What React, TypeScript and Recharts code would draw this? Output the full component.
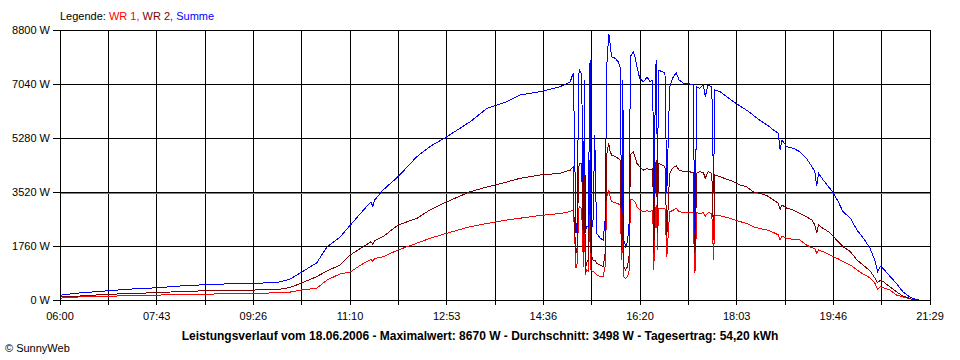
import { LineChart, Line, XAxis, YAxis, CartesianGrid, ReferenceLine } from 'recharts';

// sampled readings, 18.06.2006
const times = [
  '06:00', '06:04', '06:21', '06:51', '07:15', '07:44', '08:08', '08:35', '09:12', '09:39',
  '09:52', '10:06', '10:18', '10:34', '10:45', '10:59', '11:10', '11:24', '11:32', '11:34',
  '11:36', '11:45', '12:01', '12:21', '12:35', '12:53', '13:18', '13:36', '13:57', '14:11',
  '14:33', '14:54', '15:05', '15:06', '15:08', '15:09', '15:11', '15:12', '15:14', '15:15',
  '15:17', '15:19', '15:20', '15:21', '15:22', '15:24', '15:26', '15:27', '15:29', '15:31',
  '15:33', '15:37', '15:40', '15:42', '15:44', '15:46', '15:47', '15:49', '15:53', '15:56',
  '15:58', '16:00', '16:01', '16:02', '16:04', '16:06', '16:08', '16:09', '16:12', '16:14',
  '16:16', '16:19', '16:23', '16:27', '16:30', '16:33', '16:34', '16:36', '16:37', '16:38',
  '16:39', '16:43', '16:46', '16:48', '16:51', '16:54', '16:58', '17:01', '17:06', '17:11',
  '17:16', '17:18', '17:20', '17:23', '17:27', '17:29', '17:32', '17:36', '17:38', '17:39',
  '17:45', '17:52', '17:59', '18:06', '18:13', '18:20', '18:27', '18:35', '18:42', '18:47',
  '18:49', '18:51', '18:56', '19:03', '19:10', '19:17', '19:23', '19:26', '19:28', '19:30',
  '19:35', '19:42', '19:46', '19:51', '19:56', '20:04', '20:11', '20:18', '20:25', '20:30',
  '20:33', '20:36', '20:39', '20:46', '20:53', '21:00', '21:08', '21:11', '21:15', '21:17',
];

// WR 1 (red)
const wr1 = [
  50, 75, 100, 120, 145, 160, 175, 190, 210, 225,
  235, 260, 330, 380, 650, 850, 915, 1195, 1320, 1260,
  1350, 1410, 1630, 1850, 2010, 2175, 2390, 2495, 2605, 2665,
  2755, 2820, 2880, 2900, 2930, 2500, 1040, 1100, 2990, 3040,
  2990, 1085, 2880, 815, 980, 950, 3095, 980, 925, 900,
  815, 760, 760, 1085, 3365, 3585, 3420, 3205, 3170, 3140,
  3095, 1305, 3040, 760, 705, 760, 980, 3260, 3260, 3205,
  3040, 2935, 2880, 2910, 2880, 2935, 980, 2990, 3095, 1630,
  2990, 2990, 2990, 1400, 2880, 2910, 2990, 2880, 2845, 2845,
  2845, 870, 2845, 2825, 2845, 2735, 2845, 2825, 1305, 2770,
  2740, 2695, 2630, 2555, 2500, 2390, 2335, 2280, 2200, 2120,
  1955, 2090, 2010, 1975, 1955, 1795, 1700, 1685, 1520, 1630,
  1575, 1465, 1410, 1340, 1250, 1140, 980, 840, 720, 560,
  350, 435, 400, 325, 165, 100, 40, 0, 0, 0,
];

// WR 2 (dark red)
const wr2 = [
  95, 105, 130, 185, 210, 240, 275, 300, 320, 330,
  340, 410, 555, 760, 945, 1140, 1470, 1740, 1900, 1810,
  1940, 2065, 2445, 2660, 2935, 3200, 3530, 3685, 3845, 3965,
  4075, 4130, 4235, 4290, 4345, 2500, 1530, 1600, 4345, 4455,
  4455, 1530, 4235, 870, 1195, 1300, 4630, 1520, 1305, 1300,
  1195, 1140, 1085, 1520, 4780, 5105, 4890, 4725, 4670, 4615,
  4565, 1630, 4345, 1085, 980, 1085, 1520, 4725, 4835, 4670,
  4455, 4345, 4235, 4290, 4235, 4290, 1520, 4455, 4565, 2175,
  4455, 4400, 4345, 2100, 4130, 4290, 4380, 4235, 4185, 4185,
  4155, 1520, 4130, 4185, 4155, 3965, 4185, 4130, 1955, 4075,
  4020, 3930, 3860, 3750, 3695, 3530, 3475, 3400, 3260, 3150,
  2950, 3100, 2990, 2935, 2825, 2715, 2605, 2445, 2175, 2445,
  2330, 2200, 2065, 1900, 1740, 1575, 1305, 1130, 950, 720,
  565, 650, 600, 435, 270, 130, 45, 10, 0, 0,
];

// Summe (blue)
const summe = [
  140, 175, 230, 300, 355, 400, 455, 500, 540, 555,
  570, 685, 910, 1205, 1725, 2050, 2440, 2930, 3200, 3050,
  3260, 3585, 4020, 4670, 5000, 5320, 5810, 6250, 6460, 6680,
  6790, 6950, 7115, 7225, 7390, 5975, 2180, 2300, 7390, 7495,
  7350, 2605, 7170, 2180, 2390, 2400, 7820, 2600, 2390, 5380,
  2175, 2010, 1955, 2600, 7715, 8670, 8475, 7930, 7875, 7765,
  7605, 2180, 7170, 1955, 1740, 1900, 2600, 7930, 8090, 7930,
  7605, 7225, 7115, 7260, 7115, 7170, 2605, 7605, 7820, 3040,
  7495, 7440, 7390, 3500, 6950, 7225, 7410, 7170, 7060, 7060,
  7005, 2175, 6950, 6900, 7005, 6625, 7005, 6950, 3475, 6845,
  6790, 6625, 6465, 6325, 6190, 6030, 5865, 5705, 5540, 5430,
  4890, 5215, 4995, 4945, 4835, 4615, 4345, 4180, 3715, 4130,
  3910, 3640, 3475, 3205, 2880, 2665, 2280, 2010, 1685, 1305,
  925, 1085, 1030, 780, 545, 270, 90, 40, 20, 0,
];

const yTicks = [0, 1760, 3520, 5280, 7040, 8800];
const xLabels = ['06:00', '07:43', '09:26', '11:10', '12:53', '14:36', '16:20', '18:03', '19:46', '21:29'];
const average = 3498;

const toMin = (s: string) => {
  const [h, m] = s.split(':').map(Number);
  return h * 60 + m;
};

const start = toMin(xLabels[0]);
const end = toMin(xLabels[xLabels.length - 1]);
const step = (end - start) / 18;
const xTicks = Array.from({ length: 19 }, (_, i) => start + i * step);

const data = times.map((t, i) => ({ t: toMin(t), wr1: wr1[i], wr2: wr2[i], summe: summe[i] }));

const font = '"Liberation Sans", Arial, sans-serif';

// average line: snap to the pixel row under the grid line so both stay visible
const AverageLine = (p: any) => (
  <line
    x1={p.x1}
    x2={p.x2}
    y1={Math.ceil(p.y1) + 0.5}
    y2={Math.ceil(p.y2) + 0.5}
    stroke="#808080"
    strokeWidth={1}
  />
);

export default function App() {
  return (
    <div style={{ position: 'relative', width: 960, height: 360, background: '#fff', fontFamily: font }}>
      <style>{`body{margin:0} svg line{shape-rendering:crispEdges} .recharts-line-curve{shape-rendering:crispEdges}`}</style>
      <LineChart width={960} height={360} data={data} margin={{ top: 30, right: 30, bottom: 40, left: 0 }}>
        <CartesianGrid stroke="#000" strokeWidth={1} />
        <XAxis
          dataKey="t"
          type="number"
          domain={[start, end]}
          ticks={xTicks}
          interval={0}
          height={20}
          tickSize={5}
          tickMargin={7}
          stroke="#000"
          tick={{ fill: '#000', fontSize: 11, fontFamily: font }}
          tickFormatter={(v: number) => {
            const k = Math.round((v - start) / step);
            return k % 2 === 0 ? xLabels[k / 2] : '';
          }}
        />
        <YAxis
          type="number"
          domain={[0, 8800]}
          ticks={yTicks}
          interval={0}
          width={60}
          tickSize={7}
          tickMargin={3}
          stroke="#000"
          tick={{ fill: '#000', fontSize: 11, fontFamily: font }}
          tickFormatter={(v: number) => `${v} W`}
        />
        <ReferenceLine y={average} stroke="#808080" shape={AverageLine} />
        <Line type="linear" dataKey="wr1" stroke="#ff0000" strokeWidth={1} dot={false} isAnimationActive={false} />
        <Line type="linear" dataKey="wr2" stroke="#800000" strokeWidth={1} dot={false} isAnimationActive={false} />
        <Line type="linear" dataKey="summe" stroke="#0000ff" strokeWidth={1} dot={false} isAnimationActive={false} />
      </LineChart>

      <div style={{ position: 'absolute', left: 60, top: 10, fontSize: 11, lineHeight: '13px', whiteSpace: 'nowrap' }}>
        <span style={{ color: '#000' }}>Legende: </span>
        <span style={{ color: '#ff0000' }}>WR 1, </span>
        <span style={{ color: '#800000' }}>WR 2, </span>
        <span style={{ color: '#0000ff' }}>Summe</span>
      </div>
      <div style={{ position: 'absolute', left: 0, width: 960, top: 329, textAlign: 'center', fontSize: 12, lineHeight: '15px', fontWeight: 'bold', whiteSpace: 'nowrap' }}>
        Leistungsverlauf vom 18.06.2006 - Maximalwert: 8670 W - Durchschnitt: 3498 W - Tagesertrag: 54,20 kWh
      </div>
      <div style={{ position: 'absolute', left: 5, top: 342, fontSize: 11, lineHeight: '13px', whiteSpace: 'nowrap' }}>
        © SunnyWeb
      </div>
    </div>
  );
}
